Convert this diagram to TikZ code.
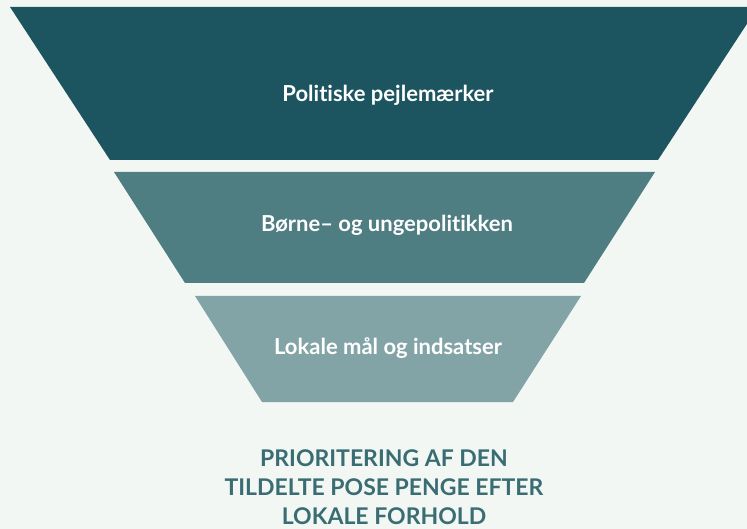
\documentclass[tikz,border=0pt]{standalone}
\usepackage{fontspec}
\setmainfont{Lato}[UprightFont=* Bold, RawFeature=-liga]
\definecolor{bgc}{HTML}{F3F7F3}
\definecolor{tone1}{HTML}{1C5560}
\definecolor{tone2}{HTML}{4E7D82}
\definecolor{tone3}{HTML}{82A4A7}
\definecolor{titlec}{HTML}{3A6D73}
\tikzset{
  lvl/.style={text=white, font=\fontsize{22}{26}\selectfont},
  caption/.style={text=titlec, align=center, font=\fontsize{23}{29}\selectfont}
}
\begin{document}
\begin{tikzpicture}[x=1pt,y=-1pt]
\useasboundingbox (0,0) rectangle (747,529);
\clip (0,0) rectangle (747,529);
\fill[bgc] (0,0) rectangle (747,529);
\fill[tone1] (10,7) -- (758,7) -- (658,160) -- (110,160) -- cycle;
\fill[tone2] (114,172) -- (655,172) -- (584,283) -- (185,283) -- cycle;
\fill[tone3] (195,296) -- (581,296) -- (513,402) -- (262,402) -- cycle;
\node[lvl] (l1) at (388,95) {Politiske pejlemærker};
\node[lvl] (l2) at (387,225) {Børne– og ungepolitikken};
\node[lvl] (l3) at (388,348) {Lokale mål og indsatser};
\node[caption] (cap) at (384,487) {PRIORITERING AF DEN\\TILDELTE POSE PENGE EFTER\\LOKALE FORHOLD};
\end{tikzpicture}
\end{document}
